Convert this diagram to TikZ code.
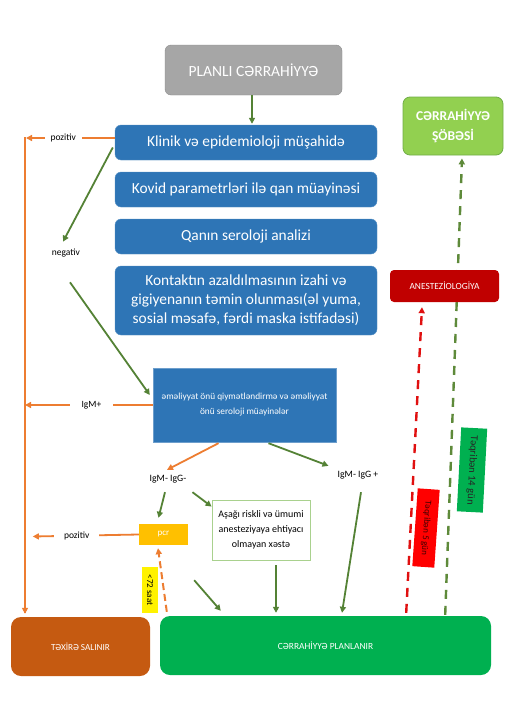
\documentclass[tikz,border=0pt]{standalone}
\usepackage{fontspec}
\setmainfont{Carlito}
\usetikzlibrary{arrows.meta,calc}
\definecolor{cblue}{HTML}{2E75B6}
\definecolor{cgray}{HTML}{A6A6A6}
\definecolor{cgrayd}{HTML}{8C8C8C}
\definecolor{clgreen}{HTML}{92D050}
\definecolor{clgreend}{HTML}{70AD47}
\definecolor{cdred}{HTML}{C00000}
\definecolor{corange}{HTML}{ED7D31}
\definecolor{carrow}{HTML}{548235}
\definecolor{cpcr}{HTML}{FFC000}
\definecolor{cbrown}{HTML}{C55A11}
\definecolor{cgreen}{HTML}{00B050}
\definecolor{cbord}{HTML}{A9D18E}
\definecolor{cred}{HTML}{FF0000}
\definecolor{credd}{HTML}{E01010}
\definecolor{cdash}{HTML}{5E8A3A}
\tikzset{
  bluebox/.style={fill=cblue,draw=cblue!80!white,rounded corners=6pt,text=white,font=\fontsize{15.4}{19}\selectfont,minimum width=262pt,minimum height=35pt,align=center,inner sep=2pt},
  lab/.style={font=\fontsize{9.5}{11}\selectfont,inner sep=1pt},
  wlab/.style={lab,fill=white,inner xsep=6pt},
  oarrow/.style={draw=corange,line width=1.8pt,-{Triangle[length=6pt,width=6pt]}},
  oline/.style={draw=corange,line width=1.8pt},
  garrow/.style={draw=carrow,line width=1.8pt,-{Triangle[length=6pt,width=6pt]}},
  tag/.style={font=\fontsize{9.7}{11}\selectfont,inner sep=1pt,align=center},
}
\begin{document}
\begin{tikzpicture}[x=1pt,y=-1pt]
\useasboundingbox[fill=white] (0,0) rectangle (509,720);
\node[fill=cgray,draw=cgrayd,rounded corners=6pt,minimum width=177pt,minimum height=50pt,text=white,font=\fontsize{15.5}{18}\selectfont] (plan) at (253.5,70) {PLANLI CƏRRAHİYYƏ};
\node[bluebox] (klinik) at (246,142.5) {Klinik və epidemioloji müşahidə};
\node[bluebox] (kovid) at (246,189.5) {Kovid parametrləri ilə qan müayinəsi};
\node[bluebox] (qan) at (246,236.5) {Qanın seroloji analizi};
\node[bluebox,minimum height=69pt] (kontakt) at (246,300.5) {Kontaktın azaldılmasının izahi və\\gigiyenanın təmin olunması(əl yuma,\\sosial məsafə, fərdi maska istifadəsi)};
\node[fill=clgreen,draw=clgreend,line width=0.8pt,rounded corners=7pt,minimum width=100pt,minimum height=58pt,text=white,align=center,font=\bfseries\fontsize{13.5}{20}\selectfont] (sobe) at (453,126) {CƏRRAHİYYƏ\\ŞÖBƏSİ};
\node[fill=cblue,draw=cblue!70!white,minimum width=183pt,minimum height=74pt,text=white,align=center,font=\fontsize{9.3}{15}\selectfont] (emel) at (244.5,405) {əməliyyat önü qiymətləndirmə və əməliyyat\\önü seroloji müayinələr};
\node[tag] (igmneg) at (168,479) {IgM- IgG-};
\node[tag] (igmpos) at (358,475) {IgM- IgG +};
\node[fill=cpcr,minimum width=49pt,minimum height=21pt,text=white,font=\fontsize{9}{10}\selectfont] (pcr) at (163.5,534.5) {pcr};
\node[draw=cbord,line width=0.8pt,minimum width=98pt,minimum height=60pt,align=center,font=\fontsize{10}{15}\selectfont] (asagi) at (261,530) {Aşağı riskli və ümumi\\anesteziyaya ehtiyacı\\olmayan xəstə};
\node[fill=cbrown,rounded corners=10pt,minimum width=139pt,minimum height=59pt,text=white,font=\fontsize{9.2}{11}\selectfont] (texire) at (80.5,646.5) {TƏXİRƏ SALINIR};
\node[fill=cgreen,rounded corners=10pt,minimum width=331pt,minimum height=59pt,text=white,font=\fontsize{9.4}{11}\selectfont] (planlanir) at (325.5,645.5) {CƏRRAHİYYƏ PLANLANIR};
\node[lab] (neg) at (66,253) {negativ};
% long dashed lines
\draw[draw=cdash,line width=2.4pt,dash pattern=on 9pt off 7pt,-{Triangle[length=6pt,width=6pt]}] ($(planlanir.north east)+(-46,-1)$) -- ($(sobe.south)+(9,3)$);
\node[fill=cdred,rounded corners=4pt,minimum width=109pt,minimum height=32pt,text=white,font=\fontsize{9.4}{11}\selectfont] (anest) at (444.5,286) {ANESTEZİOLOGİYA};
\draw[draw=credd,line width=2.4pt,dash pattern=on 9pt off 7pt,-{Triangle[length=6pt,width=6pt]}] ($(planlanir.north east)+(-85,-3)$) -- ($(anest.south)+(-22.5,5)$);
% labels on dashed lines
\node[fill=cred,minimum width=78pt,minimum height=22pt,rotate=-94,font=\fontsize{9}{10}\selectfont,text=black!75!red] (t5) at (426,528) {Təqribən 5 gün};
\node[fill=cgreen,minimum width=84pt,minimum height=26pt,rotate=-93,font=\fontsize{10.5}{12}\selectfont,text=black!85] (t14) at (472,470) {Təqribən 14 gün};
\node[fill=yellow,minimum width=46pt,minimum height=16pt,rotate=-90,font=\fontsize{9}{10}\selectfont,inner sep=1pt] (t72) at (150,590) {<72 saat};
% orange connectors
\coordinate (ltop) at (25,138);
\draw[oline,line cap=rect] (ltop) -- ($(ltop |- texire.north)+(0,-5)$);
\draw[oarrow] ($(ltop |- texire.north)+(0,-12)$) -- ($(ltop |- texire.north)+(0,-3)$);
\draw[oarrow] (klinik.west |- ltop) -- node[wlab,pos=0.58] {pozitiv} ($(ltop)+(1,0)$);
\draw[oarrow] (emel.west) -- node[wlab,pos=0.48,inner xsep=12pt] {IgM+} (ltop |- emel.west);
\draw[oarrow] (pcr.west) -- node[wlab,pos=0.585,inner xsep=10pt] {pozitiv} ($(pcr.west)+(-106,2)$);
\draw[oarrow] ($(emel.south)+(-26,1)$) -- ($(igmneg.north)+(-1,-4)$);
\draw[draw=corange,line width=2pt,dash pattern=on 7pt off 4pt,-{Triangle[length=6pt,width=6pt]}] ($(planlanir.north west)+(7,-4)$) -- ($(pcr.south)+(-5.5,3)$);
% green connectors
\draw[garrow] ($(plan.south)+(-1.5,0)$) -- ($(klinik.north)+(6,-1)$);
\draw[garrow] ($(klinik.west)+(-2,5)$) -- ($(neg.north)+(-3,-6)$);
\draw[garrow] ($(neg.south)+(4,24)$) -- ($(emel.west)+(-3,-10)$);
\draw[garrow] ($(emel.south)+(24,1)$) -- ($(igmpos.north west)+(-8,-4)$);
\draw[garrow] ($(igmneg.south)+(-3,8)$) -- ($(pcr.north)+(-5,-6)$);
\draw[garrow] ($(igmneg.south east)+(5,8)$) -- ($(asagi.north west)+(0,7)$);
\draw[garrow] ($(asagi.south)+(15,5)$) -- ($(asagi.south |- planlanir.north)+(15,-3)$);
\draw[garrow] ($(pcr.south east)+(6,35)$) -- ($(planlanir.north west)+(61,-5)$);
\draw[garrow] ($(igmpos.south)+(3,12)$) -- ($(planlanir.north)+(16.5,-3)$);
\end{tikzpicture}
\end{document}
